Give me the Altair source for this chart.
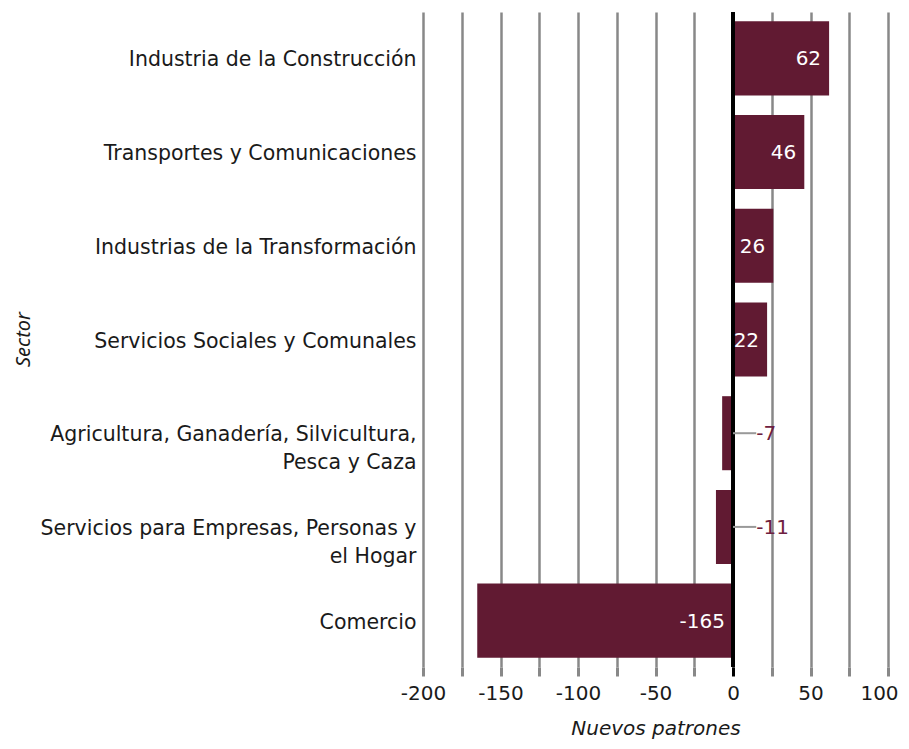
import altair as alt
import pandas as pd

sectors = [
    "Industria de la Construcción",
    "Transportes y Comunicaciones",
    "Industrias de la Transformación",
    "Servicios Sociales y Comunales",
    "Agricultura, Ganadería, Silvicultura,\nPesca y Caza",
    "Servicios para Empresas, Personas y\nel Hogar",
    "Comercio",
]
values = [62, 46, 26, 22, -7, -11, -165]
grid_values = [-200, -175, -150, -125, -100, -75, -50, -25, 0, 25, 50, 75, 100]

BAR = "#611a32"
FONT = "DejaVu Sans"

df = pd.DataFrame({"sector": sectors, "value": values})
df["inside"] = df["value"].abs() > 15
df["label_x"] = df["value"].clip(lower=0)
df["lead_end"] = 15
df["zero"] = 0
df["txt"] = df["value"].astype(str)

y_axis = alt.Axis(
    labelExpr="split(datum.label, '\\n')",
    labelFont=FONT,
    labelFontSize=20.5,
    labelColor="#1a1a1a",
    labelLineHeight=28,
    labelPadding=7,
    labelOffset=2,
    labelLimit=500,
    ticks=False,
    domain=False,
    title="Sector",
    titleFont="Noto Sans",
    titleFontStyle="italic",
    titleFontWeight="normal",
    titleFontSize=20,
    titleColor="#1a1a1a",
    titleX=-400,
    titleY=327,
    titleAngle=-90,
    titleAlign="center",
    titleBaseline="middle",
)
y_scale = alt.Scale(paddingInner=0.21, paddingOuter=0.1)

x_axis = alt.Axis(
    values=grid_values,
    labelExpr="datum.value % 50 == 0 ? toString(datum.value) : ''",
    labelFont=FONT,
    labelFontSize=20,
    labelColor="#1a1a1a",
    labelPadding=7,
    labelOverlap=False,
    labelFlush=False,
    labelOffset={"condition": {"test": "datum.value == 100", "value": -9}, "value": 0},
    tickSize=9,
    tickWidth=3,
    tickColor={"condition": {"test": "datum.value == 0", "value": "black"}, "value": "#888888"},
    grid=True,
    gridColor={"condition": {"test": "datum.value == 0", "value": "black"}, "value": "#888888"},
    gridWidth=2.5,
    gridOpacity=1,
    domain=False,
    title="Nuevos patrones",
    titleFont=FONT,
    titleFontStyle="italic",
    titleFontWeight="normal",
    titleFontSize=20,
    titleColor="#1a1a1a",
    titlePadding=15,
)
x_scale = alt.Scale(domain=[-200, 100], nice=False)


def X(field):
    return alt.X(field, type="quantitative", scale=x_scale, axis=x_axis, title="Nuevos patrones")


def Y():
    return alt.Y("sector:N", sort=sectors, scale=y_scale, axis=y_axis, title="Sector")


bars = alt.Chart(df).mark_bar(color=BAR).encode(
    x=X("value"),
    x2=alt.X2("zero:Q"),
    y=Y(),
)

zero_rule = alt.Chart(df).mark_rule(color="black", strokeWidth=3).encode(
    x=X("zero")
)

inside_txt = alt.Chart(df).transform_filter("datum.inside").mark_text(
    align="right", baseline="middle", dx=-8, dy=1, font=FONT, fontSize=20, color="white"
).encode(x=X("label_x"), y=Y(), text="txt:N")

leader = alt.Chart(df).transform_filter("!datum.inside").mark_rule(
    color="#999999", strokeWidth=2
).encode(x=X("zero"), x2="lead_end:Q", y=Y())

outside_txt = alt.Chart(df).transform_filter("!datum.inside").mark_text(
    align="left", baseline="middle", dx=0, dy=1, font=FONT, fontSize=20, color="#6e2040"
).encode(x=X("lead_end"), y=Y(), text="txt:N")

chart = alt.layer(bars, zero_rule, inside_txt, leader, outside_txt).properties(
    width=465,
    height=655,
    autosize=alt.AutoSizeParams(type="none"),
    padding={"left": 415, "top": 4, "right": 13, "bottom": 74},
).configure_view(stroke=None)

chart.save("out.html", embed_options={"renderer": "svg", "actions": False})
